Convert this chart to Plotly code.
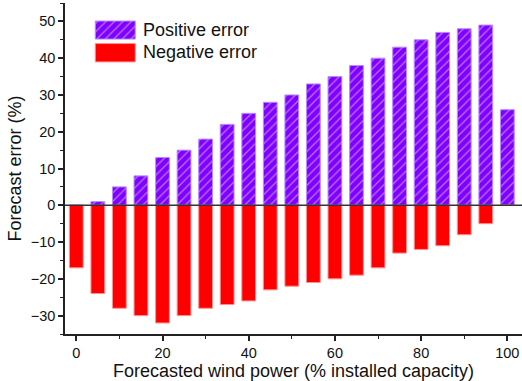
import plotly.graph_objects as go

wind_power = [0, 5, 10, 15, 20, 25, 30, 35, 40, 45, 50, 55, 60, 65, 70, 75, 80, 85, 90, 95, 100]
positive_error = [0, 1, 5, 8, 13, 15, 18, 22, 25, 28, 30, 33, 35, 38, 40, 43, 45, 47, 48, 49, 26]
negative_error = [-17, -24, -28, -30, -32, -30, -28, -27, -26, -23, -22, -21, -20, -19, -17, -13, -12, -11, -8, -5, 0]
legend_labels = ["Positive error", "Negative error"]

PURPLE = "#7F00FF"
RED = "#FF0000"
FONT = "Liberation Sans, Arial, sans-serif"

fig = go.Figure()

fig.add_trace(go.Bar(
    x=wind_power, y=positive_error, width=3.2, name=legend_labels[0],
    marker=dict(color=PURPLE, line=dict(color="#B98AFF", width=1),
                pattern=dict(shape="/", fgcolor="#F0E6FF", bgcolor=PURPLE,
                             size=6, solidity=0.22)),
    showlegend=False,
))
fig.add_trace(go.Bar(
    x=wind_power, y=negative_error, width=3.2, name=legend_labels[1],
    marker=dict(color=RED, line=dict(color="#FF9090", width=1)),
    showlegend=False,
))

# custom legend swatches on an overlay axis (paper-like 0..1)
fig.add_trace(go.Bar(
    x=[0.11], y=[0.0545], base=[0.891], width=[0.0875], xaxis="x2", yaxis="y2",
    marker=dict(color=PURPLE, line=dict(color="#B98AFF", width=1),
                pattern=dict(shape="/", fgcolor="#F0E6FF", bgcolor=PURPLE,
                             size=6, solidity=0.22)),
    showlegend=False, hoverinfo="skip",
))
fig.add_trace(go.Bar(
    x=[0.11], y=[0.0555], base=[0.822], width=[0.0875], xaxis="x2", yaxis="y2",
    marker=dict(color=RED, line=dict(color="#FF9090", width=1)),
    showlegend=False, hoverinfo="skip",
))
for lab, yy in zip(legend_labels, [0.918, 0.852]):
    fig.add_annotation(x=0.166, y=yy, xref="paper", yref="paper", text=lab,
                       showarrow=False, xanchor="left", yanchor="middle",
                       font=dict(family=FONT, size=18, color="#111"))

fig.add_shape(type="line", xref="paper", yref="y", x0=0, x1=1, y0=0, y1=0,
              line=dict(color="#333", width=1.5), layer="above")

fig.update_layout(
    width=522, height=381,
    margin=dict(l=65, r=0, t=3, b=47),
    paper_bgcolor="white", plot_bgcolor="white",
    barmode="overlay",
    font=dict(family=FONT, size=14.5, color="#111"),
    xaxis=dict(
        range=[-2.62, 103.4], tickvals=[0, 20, 40, 60, 80, 100],
        showline=True, linecolor="#222", linewidth=1.5,
        ticks="outside", ticklen=5, tickwidth=1.5, tickcolor="#222",
        minor=dict(dtick=10, tick0=0, ticks="outside", ticklen=3, tickwidth=1.2, tickcolor="#222"),
        showgrid=False, zeroline=False,
        tickfont=dict(size=14.5),
        title=dict(text="Forecasted wind power (% installed capacity)",
                   font=dict(size=18), standoff=6),
    ),
    yaxis=dict(
        range=[-35, 55], tickvals=[-30, -20, -10, 0, 10, 20, 30, 40, 50],
        showline=True, linecolor="#222", linewidth=1.5,
        ticks="outside", ticklen=5, tickwidth=1.5, tickcolor="#222",
        minor=dict(dtick=5, tick0=0, ticks="outside", ticklen=3, tickwidth=1.2, tickcolor="#222"),
        showgrid=False, zeroline=False,
        tickfont=dict(size=14.5),
        title=dict(text="Forecast error (%)", font=dict(size=18), standoff=4),
    ),
    xaxis2=dict(range=[0, 1], overlaying="x", visible=False, fixedrange=True),
    yaxis2=dict(range=[0, 1], overlaying="y", visible=False, fixedrange=True),
)

fig.write_html("out.html")
